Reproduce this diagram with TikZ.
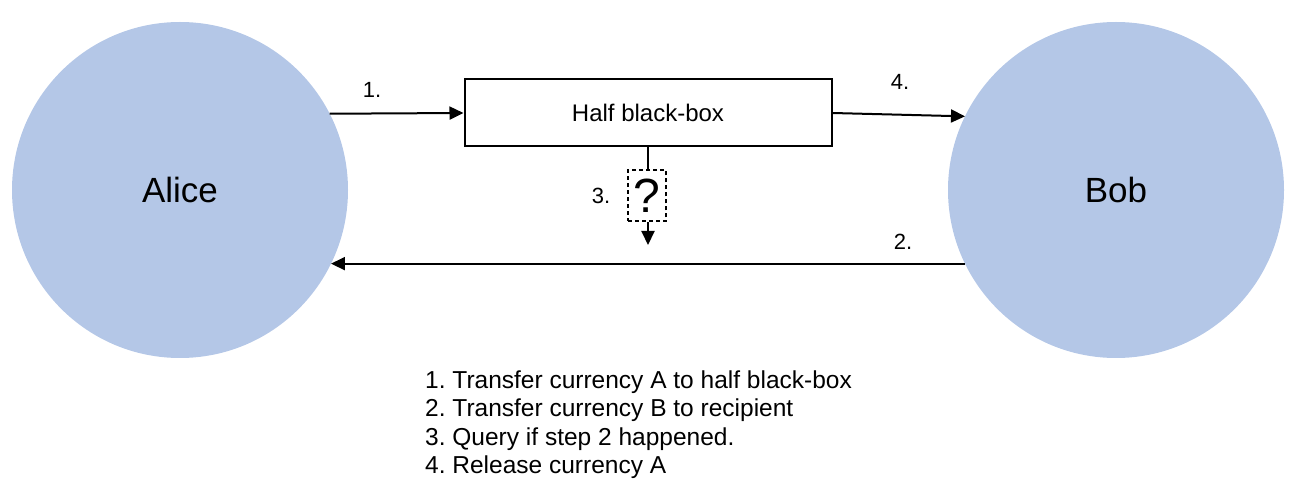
\documentclass[tikz,border=0pt]{standalone}
\usepackage{fontspec}
\setmainfont{Liberation Sans}
\usepackage{xcolor}
\definecolor{partyblue}{HTML}{B4C7E7}
\usepackage{tikz}
\usetikzlibrary{arrows.meta, positioning}
\frenchspacing

\begin{document}
\begin{tikzpicture}[x=1pt, y=-1pt,
    party/.style={circle, fill=partyblue, minimum size=336pt, inner sep=0pt, outer sep=0pt, font=\fontsize{35}{40}\selectfont},
    flow/.style={line width=2pt, -{Triangle[length=14pt, width=13pt]}},
    steplabel/.style={font=\fontsize{22}{26}\selectfont, inner sep=0pt}]
    \useasboundingbox (0,0) rectangle (1294,494);

    % Parties
    \node[party] (alice) at (180, 190) {Alice};
    \node[party] (bob) at (1116, 190) {Bob};

    % Half black-box
    \node[draw, line width=2pt, minimum width=367pt, minimum height=67pt, inner sep=0pt,
          font=\fontsize{24}{28}\selectfont] (hbb) at (648, 113) {Half black-box};

    % Query box
    \node[draw, dash pattern=on 4pt off 3pt, line width=2pt, minimum width=38pt, minimum height=51pt, inner sep=0pt,
          font=\fontsize{48}{50}\selectfont] (query) at (647, 196) {?};
    \coordinate (qend) at (648, 245);

    % Connectors
    \draw[flow] (alice.27) -- (hbb.west);
    \draw[flow] (hbb.east) -- (bob.154);
    \draw[flow] (bob.206) -- (alice.334);
    \draw[line width=2pt] (hbb.south) -- (hbb.south |- query.north);
    \draw[flow] (hbb.south |- query.south) -- (qend);

    % Step labels
    \node[steplabel] (s1) at (372, 90) {1.};
    \node[steplabel] (s2) at (903, 242) {2.};
    \node[steplabel] (s3) at (601, 196) {3.};
    \node[steplabel] (s4) at (900, 82) {4.};

    % Legend
    \foreach \i/\txt in {1/Transfer currency A to half black-box,
                         2/Transfer currency B to recipient,
                         3/Query if step 2 happened.,
                         4/Release currency A} {
        \node[anchor=base west, inner sep=0pt, font=\fontsize{24.5}{28}\selectfont]
            (leg\i) at (425, 361+28*\i) {\i. \txt};
    }
\end{tikzpicture}
\end{document}
